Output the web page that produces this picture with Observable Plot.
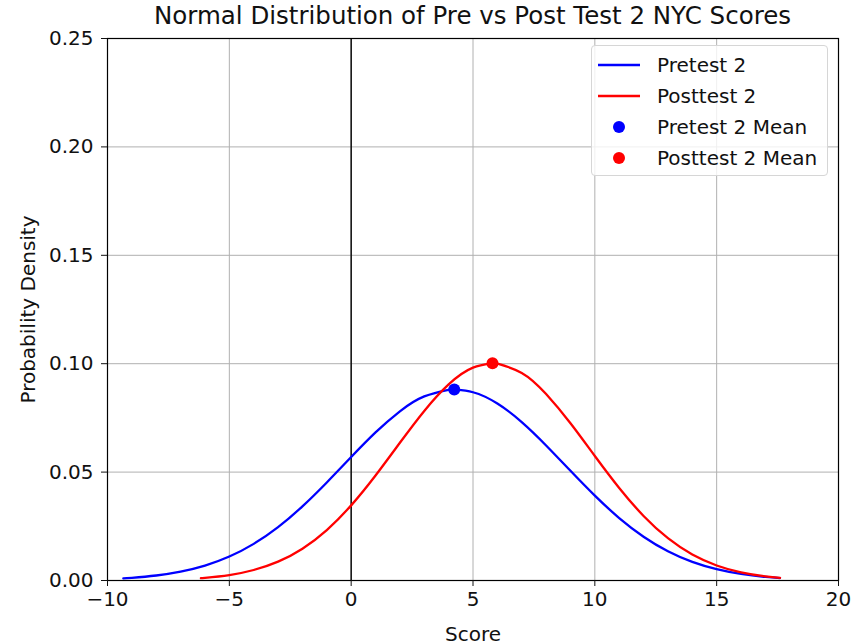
<!DOCTYPE html>
<html>
<head>
<meta charset="utf-8">
<script src="https://cdn.jsdelivr.net/npm/d3@7"></script>
<script src="https://cdn.jsdelivr.net/npm/@observablehq/plot@0.6"></script>
<style>
  html, body { margin: 0; padding: 0; background: #fff; }
  #wrap { position: relative; width: 868px; height: 644px; font-family: "DejaVu Sans", sans-serif; }
  #title { position: absolute; left: 107px; width: 731px; top: 2px; text-align: center; font-size: 24.5px; line-height: 28px; color: #111; white-space: nowrap; z-index: 2; }
  #chart { position: absolute; left: 0; top: 0; z-index: 1; }
  #legend { position: absolute; left: 591px; top: 45px; width: 237px; height: 131px; box-sizing: border-box; z-index: 3;
            border: 1px solid #d6d6d6; border-radius: 4px; background: rgba(255,255,255,0.8); font-size: 20px; color: #111; }
  .row { position: absolute; left: 5px; height: 24px; display: flex; align-items: center; }
  .row svg { width: 44px; height: 24px; margin-right: 16px; flex: none; }
</style>
</head>
<body>
<div id="wrap">
  <div id="chart"></div>
  <div id="title"></div>
  <div id="legend"></div>
</div>
<script>
const titleText = "Normal Distribution of Pre vs Post Test 2 NYC Scores";
const xLabel = "Score";
const yLabel = "Probability Density";
const xTicks = [-10, -5, 0, 5, 10, 15, 20];
const yTicks = [0, 0.05, 0.10, 0.15, 0.20, 0.25];
const seriesNames = ["Pretest 2", "Posttest 2", "Pretest 2 Mean", "Posttest 2 Mean"];

// Pretest 2 curve
const preX = [-9.35, -9, -8, -7, -6, -5, -4, -3, -2, -1, 0, 1, 2, 3, 4, 4.23, 5, 6, 7, 8, 9, 10, 11, 12, 13, 14, 15, 16, 17, 17.6];
const preY = [0.00098, 0.00124, 0.0023, 0.00407, 0.00687, 0.01104, 0.0169, 0.02462, 0.03419, 0.04521, 0.05695, 0.06831, 0.07804, 0.08491, 0.08799, 0.0881, 0.08683, 0.08162, 0.07307, 0.0623, 0.05059, 0.03913, 0.02882, 0.02021, 0.0135, 0.00859, 0.00521, 0.00301, 0.00165, 0.00113];

// Posttest 2 curve
const postX = [-6.15, -6, -5, -4, -3, -2, -1, 0, 1, 2, 3, 4, 5, 5.8, 6, 7, 8, 9, 10, 11, 12, 13, 14, 15, 16, 17, 17.6];
const postY = [0.0011, 0.00124, 0.00252, 0.00484, 0.00869, 0.01468, 0.02328, 0.03465, 0.04842, 0.06353, 0.07822, 0.09046, 0.0982, 0.1002, 0.10007, 0.09575, 0.086, 0.07253, 0.05742, 0.04268, 0.02978, 0.01951, 0.01199, 0.00693, 0.00376, 0.00191, 0.00124];

// Means
const meanX = [4.23, 5.8];
const meanY = [0.0881, 0.1002];

const colors = ["#0000ff", "#ff0000"];

const pre = preX.map((x, i) => ({x, y: preY[i]}));
const post = postX.map((x, i) => ({x, y: postY[i]}));
const means = meanX.map((x, i) => ({x, y: meanY[i], c: colors[i]}));

document.getElementById("title").textContent = titleText;

const chart = Plot.plot({
  width: 868,
  height: 644,
  marginLeft: 107,
  marginRight: 30,
  marginTop: 38,
  marginBottom: 64,
  style: { fontFamily: "DejaVu Sans, sans-serif", fontSize: "20px", color: "#111", background: "white" },
  x: { domain: [-10, 20] },
  y: { domain: [0, 0.25] },
  marks: [
    Plot.gridX(xTicks, { stroke: "#b0b0b0", strokeOpacity: 1, strokeWidth: 1 }),
    Plot.gridY(yTicks, { stroke: "#b0b0b0", strokeOpacity: 1, strokeWidth: 1 }),
    Plot.ruleX([0], { stroke: "black", strokeWidth: 1.4 }),
    Plot.line(pre, { x: "x", y: "y", stroke: colors[0], strokeWidth: 2.3, curve: "natural" }),
    Plot.line(post, { x: "x", y: "y", stroke: colors[1], strokeWidth: 2.3, curve: "natural" }),
    Plot.dot(means, { x: "x", y: "y", fill: "c", r: 6, stroke: null }),
    Plot.frame({ stroke: "black", strokeWidth: 1.2 }),
    Plot.axisX(xTicks, { tickSize: 6, tickPadding: 5, tickFormat: d => d < 0 ? "\u2212" + Math.abs(d) : String(d),
      label: xLabel, labelAnchor: "center", labelArrow: "none", labelOffset: 60 }),
    Plot.axisY(yTicks, { tickSize: 6, tickPadding: 8, tickFormat: d3.format(".2f"),
      label: yLabel, labelAnchor: "center", labelArrow: "none", labelOffset: 87 })
  ]
});
document.getElementById("chart").appendChild(chart);

// Legend
const legend = document.getElementById("legend");
const tops = [7, 38, 69, 100];
seriesNames.forEach((name, i) => {
  const row = document.createElement("div");
  row.className = "row";
  row.style.top = tops[i] + "px";
  const c = colors[i % 2];
  const sw = i < 2
    ? `<svg><line x1="1" x2="43" y1="12" y2="12" stroke="${c}" stroke-width="2.3"/></svg>`
    : `<svg><circle cx="22" cy="12" r="6" fill="${c}"/></svg>`;
  row.innerHTML = sw + `<span>${name}</span>`;
  legend.appendChild(row);
});
</script>
</body>
</html>
